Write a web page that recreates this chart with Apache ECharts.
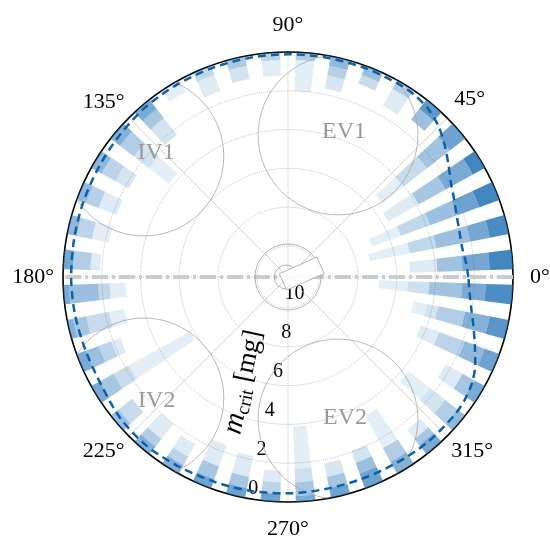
<!DOCTYPE html>
<html><head><meta charset="utf-8">
<script src="https://cdn.jsdelivr.net/npm/echarts@6/dist/echarts.min.js"></script>
<style>html,body{margin:0;padding:0;background:#fff}#c{width:550px;height:540px}</style>
</head><body><div id="c"></div>
<script>
// ---------------- data ----------------
const angleTicks = [0, 45, 90, 135, 180, 225, 270, 315];
const radiusTicks = [0, 2, 4, 6, 8, 10];
const binAngles = [4.5, 13.5, 22.5, 31.5, 40.5, 49.5, 58.5, 67.5, 76.5, 85.5,
  94.5, 103.5, 112.5, 121.5, 130.5, 139.5, 148.5, 157.5, 166.5, 175.5,
  184.5, 193.5, 202.5, 211.5, 220.5, 229.5, 238.5, 247.5, 256.5, 265.5,
  274.5, 283.5, 292.5, 301.5, 310.5, 319.5, 328.5, 337.5, 346.5, 355.5];
// per bin: list of [m_crit end of band (mg), shade]
const binSegments = [
  [[1.2,0.85],[2.6,0.62],[3.9,0.42],[5.3,0.15]],
  [[1.0,0.82],[2.0,0.62],[3.8,0.45],[5.2,0.28],[7.3,0.12]],
  [[1.1,0.85],[2.3,0.65],[3.8,0.45],[5.4,0.28],[7.0,0.12]],
  [[0.7,0.85],[2.3,0.6],[3.9,0.4],[5.7,0.15]],
  [[1.0,0.65],[2.5,0.42],[4.0,0.25],[5.4,0.12]],
  [[0.6,0.72],[1.3,0.45]],
  [[0.5,0.35],[1.5,0.15]],
  [[0.5,0.45],[1.0,0.25]],
  [[0.5,0.5],[1.0,0.33],[1.7,0.18]],
  [[0.4,0.35],[2.0,0.12]],
  [[0.4,0.3],[1.2,0.13]],
  [[0.5,0.38],[1.2,0.2]],
  [[0.5,0.28],[1.4,0.15]],
  [[0.7,0.12]],
  [[0.6,0.6],[1.2,0.4],[2.3,0.2]],
  [[0.6,0.55],[1.5,0.35],[2.5,0.2],[3.8,0.12]],
  [[0.6,0.5],[1.4,0.3],[2.2,0.18]],
  [[0.5,0.5],[1.2,0.33],[2.2,0.15]],
  [[0.5,0.5],[1.3,0.3],[2.2,0.12]],
  [[0.5,0.62],[1.4,0.35],[1.9,0.15]],
  [[0.3,0.6],[1.8,0.45],[2.4,0.28],[3.2,0.13]],
  [[0.3,0.55],[1.0,0.4],[2.2,0.25],[3.0,0.12]],
  [[0.5,0.6],[1.2,0.45],[1.9,0.3],[2.4,0.15]],
  [[0.5,0.6],[1.3,0.4],[2.2,0.25],[5.8,0.12]],
  [[0.5,0.45],[1.4,0.25]],
  [[0.5,0.55],[1.0,0.35],[2.0,0.15]],
  [[0.5,0.55],[1.0,0.3],[1.75,0.15]],
  [[0.5,0.65],[1.2,0.4],[2.35,0.15]],
  [[0.5,0.65],[1.1,0.4],[2.2,0.15]],
  [[0.4,0.65],[1.0,0.3],[1.6,0.15]],
  [[0.3,0.6],[1.0,0.4],[1.7,0.22],[3.9,0.12]],
  [[0.5,0.65],[1.1,0.4],[1.8,0.18]],
  [[0.8,0.65],[1.4,0.45],[2.05,0.2]],
  [[0.7,0.55],[1.5,0.35],[3.4,0.12]],
  [[0.6,0.6],[1.0,0.4],[1.6,0.15]],
  [[0.5,0.5],[1.3,0.35],[2.3,0.2],[3.7,0.12]],
  [[0.6,0.6],[1.3,0.4],[2.3,0.15]],
  [[0.8,0.65],[1.9,0.5],[3.3,0.3],[4.3,0.15]],
  [[1.0,0.75],[2.3,0.55],[3.7,0.35],[4.3,0.2],[5.0,0.12]],
  [[1.4,0.8],[2.6,0.6],[4.3,0.42],[5.4,0.22],[6.9,0.12]]
];
const limitAngles = [0,5,10,15,20,25,30,35,40,45,50,55,60,70,80,90,100,110,120,130,140,150,160,170,180,
  190,200,210,220,230,240,250,260,270,280,290,300,310,320,325,330,335,340,345,350,355,360];
const limitValues = [2.3,2.4,2.5,2.45,2.35,2.15,1.9,1.5,1.05,0.62,0.32,0.18,0.13,0.12,0.12,0.12,0.13,0.14,0.15,0.17,0.25,0.32,0.36,0.4,0.42,
  0.45,0.5,0.48,0.3,0.25,0.32,0.38,0.4,0.45,0.5,0.52,0.5,0.45,0.45,0.5,0.65,0.95,1.35,1.7,2.0,2.2,2.3];
const zoneNames = ['EV1', 'IV1', 'IV2', 'EV2'];
const zoneCenterAngles = [70.6, 140, 220, 289.4];
const zoneCenterValues = [3.84, 1.9, 1.9, 3.84];
const zoneLabelAngles = [68.9, 136.8, 223.2, 292];
const zoneLabelValues = [3.58, 2.27, 2.32, 3.76];

// ---------------- layout constants ----------------
const RMAX = 11.6;
const ZONE_R = 4.12;      // circle radius in mg
const BAR_HALF = 2.5;     // half angular width of a bin bar (deg)
const FONT = "'Liberation Serif', 'DejaVu Serif', serif";
const CENTER = [288, 277];

const cellData = [];
binAngles.forEach((a, k) => {
  let start = 0;
  binSegments[k].forEach(([end, shade]) => { cellData.push([a, start, end, shade]); start = end; });
});

function radiusPx(api, cs, v, ang) {
  const p = api.coord([v, ang]);
  return Math.hypot(p[0] - cs.cx, p[1] - cs.cy);
}

const chart = echarts.init(document.getElementById('c'), null, {renderer: 'canvas'});
const labelPad = {
  a0: [0, 0, 0, 11], a45: [0, 0, 3, 3], a90: [0, 0, 10, 0], a135: [0, 0, 0, 0],
  a180: [0, 3, 0, 0], a225: [0, 0, 0, 0], a270: [10, 0, 0, 0], a315: [0, 0, 0, 0]
};
const rich = {};
Object.keys(labelPad).forEach(k => rich[k] = {padding: labelPad[k], fontSize: 22, fontFamily: FONT, color: '#000'});

chart.setOption({
  animation: false,
  polar: [
    {center: CENTER, radius: 225},
    {center: CENTER, radius: 214},
    {center: CENTER, radius: 225}
  ],
  angleAxis: [
    {polarIndex: 0, type: 'value', min: 0, max: 360, interval: 45, startAngle: 0, clockwise: false,
      axisLine: {lineStyle: {color: '#000', width: 1.6}}, axisTick: {show: false},
      axisLabel: {margin: 6, formatter: v => (v >= 360 ? '' : `{a${v}|${v}°}`), rich: rich},
      splitLine: {show: true, lineStyle: {color: '#c4c4c4', type: 'dotted', width: 1}}, z: 1},
    {polarIndex: 1, type: 'value', min: 0, max: 360, startAngle: 258, clockwise: false,
      axisLine: {show: false}, axisTick: {show: false}, axisLabel: {show: false}, splitLine: {show: false}},
    {polarIndex: 2, type: 'value', min: 0, max: 360, interval: 90, startAngle: 45, clockwise: false,
      axisLine: {show: false}, axisTick: {show: false}, axisLabel: {show: false},
      splitLine: {show: true, lineStyle: {color: '#d9d9d9', width: 0.8}}}
  ],
  radiusAxis: [
    {polarIndex: 0, type: 'value', min: 0, max: RMAX, interval: 2, inverse: true,
      axisLine: {show: false}, axisTick: {show: false}, axisLabel: {show: false},
      splitLine: {show: true, lineStyle: {color: '#bdbdbd', type: 'dotted', width: 1}}},
    {polarIndex: 1, type: 'value', min: 0, max: 10.78, interval: 2, inverse: true,
      axisLine: {show: false}, axisTick: {show: false}, splitLine: {show: false},
      axisLabel: {margin: 10, align: 'center', verticalAlign: 'middle', fontSize: 20, fontFamily: FONT, color: '#000',
        formatter: v => (radiusTicks.indexOf(v) >= 0 ? String(v) : '')},
      name: '{m|m}{s|crit}  {u|[mg]}', nameLocation: 'middle', nameGap: -10, nameRotate: 78,
      nameTextStyle: {rich: {
        m: {fontSize: 29, fontStyle: 'italic', fontFamily: FONT, color: '#000', lineHeight: 32},
        s: {fontSize: 19, fontFamily: FONT, color: '#000', lineHeight: 19, verticalAlign: 'bottom'},
        u: {fontSize: 27, fontFamily: FONT, color: '#000', lineHeight: 32, padding: [0, 10, 0, 0]}
      }}},
    {polarIndex: 2, type: 'value', min: 0, max: RMAX, inverse: true, show: false}
  ],
  series: [
    {
      type: 'custom', name: 'cells', coordinateSystem: 'polar', polarIndex: 0, z: 2,
      encode: {angle: 0, radius: 1},
      data: cellData,
      renderItem: function (params, api) {
        const cs = params.coordSys;
        const ang = api.value(0), v0 = api.value(1), v1 = api.value(2), op = api.value(3);
        const rO = radiusPx(api, cs, v0, ang), rI = radiusPx(api, cs, v1, ang);
        const a = ang * Math.PI / 180, hw = BAR_HALF * Math.PI / 180;
        return {type: 'sector',
          shape: {cx: cs.cx, cy: cs.cy, r0: rI, r: rO, startAngle: -a - hw, endAngle: -a + hw, clockwise: true},
          style: {fill: `rgba(33,113,181,${op})`}};
      }
    },
    {
      type: 'custom', name: 'zones', coordinateSystem: 'polar', polarIndex: 0, z: 3,
      encode: {angle: 0, radius: 1},
      data: zoneNames.map((n, i) => [zoneCenterAngles[i], zoneCenterValues[i], zoneLabelAngles[i], zoneLabelValues[i]]),
      renderItem: function (params, api) {
        const cs = params.coordSys;
        const c = api.coord([api.value(1), api.value(0)]);
        const l = api.coord([api.value(3), api.value(2)]);
        const p0 = api.coord([0, 0]), p1 = api.coord([ZONE_R, 0]);
        const rr = Math.abs(p0[0] - p1[0]);
        return {type: 'group', children: [
          {type: 'circle', shape: {cx: c[0], cy: c[1], r: rr}, style: {fill: 'none', stroke: '#a6a6a6', lineWidth: 0.8},
            clipPath: {type: 'circle', shape: {cx: cs.cx, cy: cs.cy, r: cs.r}}},
          {type: 'text', style: {x: l[0], y: l[1], text: zoneNames[params.dataIndex], fill: '#999999',
            fontSize: 24, fontFamily: FONT, align: 'center', verticalAlign: 'middle'}}
        ]};
      }
    },
    {
      type: 'custom', name: 'rotor', coordinateSystem: 'polar', polarIndex: 0, z: 5,
      encode: {angle: 0, radius: 1},
      data: [[0, RMAX]],
      renderItem: function (params, api) {
        const cs = params.coordSys;
        const x = cs.cx, y = cs.cy;
        return {type: 'group', children: [
          {type: 'circle', shape: {cx: x, cy: y, r: 33}, style: {fill: 'none', stroke: '#a0a0a0', lineWidth: 0.8}},
          {type: 'circle', shape: {cx: x - 1.7, cy: y, r: 12}, style: {fill: 'none', stroke: '#a0a0a0', lineWidth: 0.8}},
          {type: 'polygon', shape: {points: [[x - 8.7, y - 3.2], [x + 28.8, y - 19.9], [x + 36.2, y - 3.5], [x - 1.3, y + 13.2]]},
            style: {fill: 'rgba(255,255,255,0.9)', stroke: '#a0a0a0', lineWidth: 0.8}}
        ]};
      }
    },
    {
      type: 'line', name: 'axis', coordinateSystem: 'polar', polarIndex: 0, z: 4,
      symbol: 'none', silent: true,
      data: [[0, 0], [RMAX, 0], [0, 180]],
      lineStyle: {color: '#cccccc', width: 4, type: [16, 4, 3, 4]}
    },
    {
      type: 'line', name: 'limit', coordinateSystem: 'polar', polarIndex: 0, z: 6,
      symbol: 'none', smooth: 0.3,
      data: limitAngles.map((a, i) => [limitValues[i], a]),
      lineStyle: {color: '#0a62ad', width: 2.5, type: [8, 5]}
    }
  ]
});
</script></body></html>
